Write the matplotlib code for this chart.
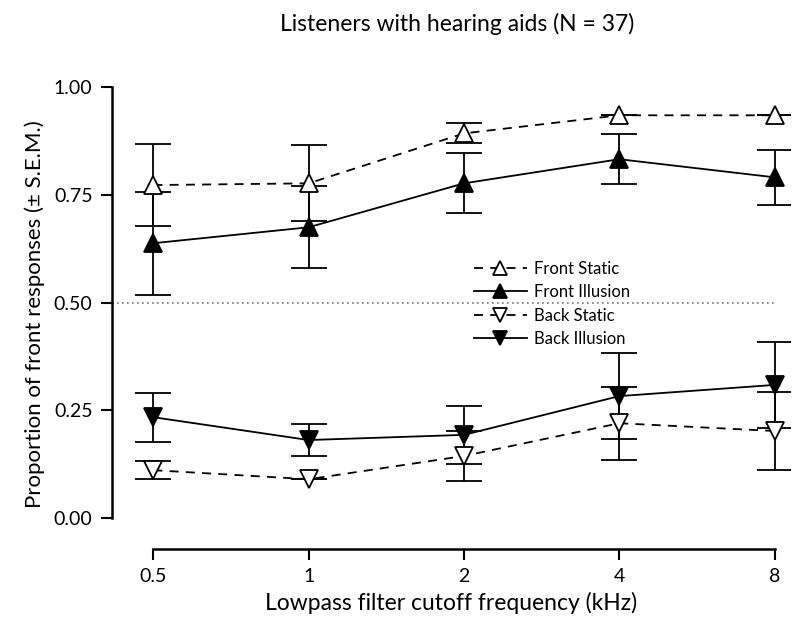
import numpy as np
import matplotlib
matplotlib.use("Agg")
import matplotlib.pyplot as plt

plt.rcParams['font.family'] = ['Lato', 'DejaVu Sans']

freqs = [0.5, 1, 2, 4, 8]
freq_labels = ['0.5', '1', '2', '4', '8']

front_static = [0.773, 0.777, 0.893, 0.935, 0.935]
front_static_sem = [0.095, 0.088, 0.023, 0.0, 0.0]
front_illusion = [0.638, 0.675, 0.777, 0.833, 0.791]
front_illusion_sem = [0.12, 0.095, 0.07, 0.058, 0.064]
back_static = [0.111, 0.090, 0.144, 0.220, 0.202]
back_static_sem = [0.021, 0.0, 0.058, 0.085, 0.09]
back_illusion = [0.234, 0.181, 0.193, 0.283, 0.309]
back_illusion_sem = [0.057, 0.038, 0.067, 0.10, 0.10]

fig = plt.figure(figsize=(8, 6.33), dpi=100)
ax = fig.add_axes([0.14, 0.1327, 0.8475, 0.743])

dash = (0, (5, 4))
common = dict(color='black', lw=1.3, ms=13, capsize=13, elinewidth=1.3,
              capthick=1.3, markeredgewidth=1.3)

ax.hlines(0.5, 0.4157, 8, colors='#777777', linestyles=(0, (1, 2)), lw=1.2, zorder=1)

series = [
    (front_static, front_static_sem, '^', 'white', dash, 'Front Static'),
    (front_illusion, front_illusion_sem, '^', 'black', '-', 'Front Illusion'),
    (back_static, back_static_sem, 'v', 'white', dash, 'Back Static'),
    (back_illusion, back_illusion_sem, 'v', 'black', '-', 'Back Illusion'),
]
handles = []
for vals, sem, mk, fc, ls, lab in series:
    eb = ax.errorbar(freqs, vals, yerr=sem, marker=mk, mfc=fc, mec='black',
                     ls=ls, label=lab, zorder=3, **common)
    handles.append(eb)

ax.set_xscale('log', base=2)
ax.set_xlim(0.4157, 8.57)
ax.set_ylim(-0.072, 1.02)
ax.set_xticks(freqs)
ax.set_xticklabels(freq_labels)
ax.minorticks_off()
ax.set_yticks([0, 0.25, 0.5, 0.75, 1.0])
ax.set_yticklabels(['0.00', '0.25', '0.50', '0.75', '1.00'])

for s in ['top', 'right']:
    ax.spines[s].set_visible(False)
ax.spines['left'].set_bounds(0, 1)
ax.spines['bottom'].set_bounds(0.5, 8)
ax.spines['left'].set_linewidth(1.8)
ax.spines['bottom'].set_linewidth(1.8)
ax.tick_params(axis='both', direction='out', length=8, width=1.5, labelsize=14,
               pad=6)

ax.set_xlabel('Lowpass filter cutoff frequency (kHz)', fontsize=16.5, labelpad=5)
ax.set_ylabel('Proportion of front responses (\u00b1 S.E.M.)', fontsize=16,
              labelpad=6)
fig.text(0.572, 0.962, 'Listeners with hearing aids (N = 37)', fontsize=16.5,
         ha='center', va='center')

leg = ax.legend(handles=[h[0] for h in handles],
                labels=[s[5] for s in series],
                loc='center left', bbox_to_anchor=(0.592, 0.52),
                bbox_transform=fig.transFigure, frameon=False, fontsize=12,
                handlelength=3.2, handletextpad=0.4, labelspacing=0.45,
                borderpad=0, borderaxespad=0, markerscale=0.8)

fig.savefig('out.png', dpi=100)
